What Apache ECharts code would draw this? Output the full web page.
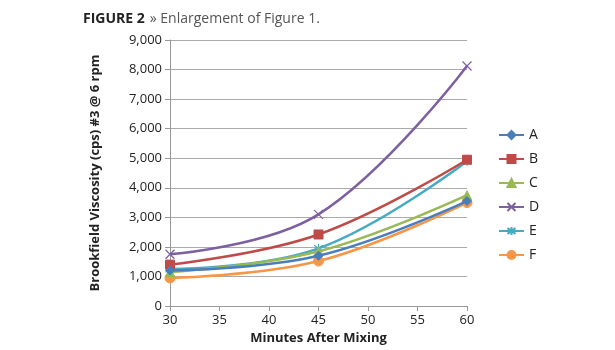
<!DOCTYPE html>
<html>
<head>
<meta charset="utf-8">
<script src="https://cdn.jsdelivr.net/npm/echarts@6/dist/echarts.min.js"></script>
<style>
  html, body { margin: 0; padding: 0; background: #fff; }
  #chart { width: 615px; height: 350px; }
</style>
</head>
<body>
<div id="chart"></div>
<script>
const minutes = [30, 45, 60]
const seriesNames = ['A', 'B', 'C', 'D', 'E', 'F']
const valuesA = [1200, 1700, 3550]
const valuesB = [1400, 2420, 4950]
const valuesC = [1150, 1850, 3750]
const valuesD = [1750, 3100, 8120]
const valuesE = [1250, 1950, 4900]
const valuesF = [950, 1520, 3500]
const xTicks = [30, 35, 40, 45, 50, 55, 60]
const yTicks = [0, 1000, 2000, 3000, 4000, 5000, 6000, 7000, 8000, 9000]

const allValues = [valuesA, valuesB, valuesC, valuesD, valuesE, valuesF]
const colors = ['#4a7ebb', '#be4b48', '#98b954', '#7d60a0', '#46aac5', '#f79646']
const symbols = [
  'diamond',
  'rect',
  'triangle',
  'path://M0,0L10,10M10,0L0,10',
  'path://M0,0L10,10M10,0L0,10M5,-2L5,12',
  'circle'
]

const chart = echarts.init(document.getElementById('chart'))
const font = 'Open Sans, sans-serif'

const series = seriesNames.map((name, i) => {
  const isPath = symbols[i].startsWith('path://')
  return {
    name,
    type: 'line',
    smooth: 0.4,
    data: minutes.map((m, j) => [m, allValues[i][j]]),
    symbol: symbols[i],
    symbolSize: symbols[i] === 'circle' ? 10 : 9,
    lineStyle: { color: colors[i], width: 2.5 },
    itemStyle: isPath
      ? { color: 'rgba(0,0,0,0)', borderColor: colors[i], borderWidth: 1.2 }
      : { color: colors[i], borderColor: colors[i], borderWidth: 1 },
    z: 10 - i
  }
})

chart.setOption({
  animation: false,
  title: {
    text: '{b|FIGURE 2} {g|» Enlargement of Figure 1.}',
    left: 78,
    top: 5,
    textStyle: {
      fontWeight: 'normal',
      rich: {
        b: { fontFamily: font, fontWeight: 'bold', fontSize: 14, color: '#222' },
        g: { fontFamily: font, fontWeight: 'normal', fontSize: 14, color: '#555' }
      }
    }
  },
  legend: {
    orient: 'vertical',
    left: 493,
    top: 121,
    itemGap: 6,
    itemWidth: 25,
    itemHeight: 10,
    textStyle: { fontFamily: font, fontSize: 14, color: '#222', lineHeight: 18 },
    data: seriesNames
  },
  grid: { left: 170, right: 148, top: 40, bottom: 44 },
  xAxis: {
    type: 'value',
    min: xTicks[0],
    max: xTicks[xTicks.length - 1],
    interval: 5,
    name: 'Minutes After Mixing',
    nameLocation: 'middle',
    nameGap: 23,
    nameTextStyle: { fontFamily: font, fontWeight: 'bold', fontSize: 13, color: '#222' },
    axisLine: { lineStyle: { color: '#999' } },
    axisTick: { show: true, length: 5, lineStyle: { color: '#999' } },
    axisLabel: { fontFamily: font, fontSize: 13, color: '#222', margin: 8 },
    splitLine: { show: false }
  },
  yAxis: {
    type: 'value',
    min: yTicks[0],
    max: yTicks[yTicks.length - 1],
    interval: 1000,
    name: 'Brookfield Viscosity (cps) #3 @ 6 rpm',
    nameLocation: 'middle',
    nameGap: 68,
    nameTextStyle: { fontFamily: font, fontWeight: 'bold', fontSize: 13, color: '#222' },
    axisLine: { show: true, lineStyle: { color: '#999' } },
    axisTick: { show: true, length: 5, lineStyle: { color: '#999' } },
    axisLabel: {
      fontFamily: font, fontSize: 13, color: '#222', margin: 8,
      formatter: v => v.toLocaleString('en-US')
    },
    splitLine: { lineStyle: { color: '#aaa' } }
  },
  series
})
</script>
</body>
</html>
